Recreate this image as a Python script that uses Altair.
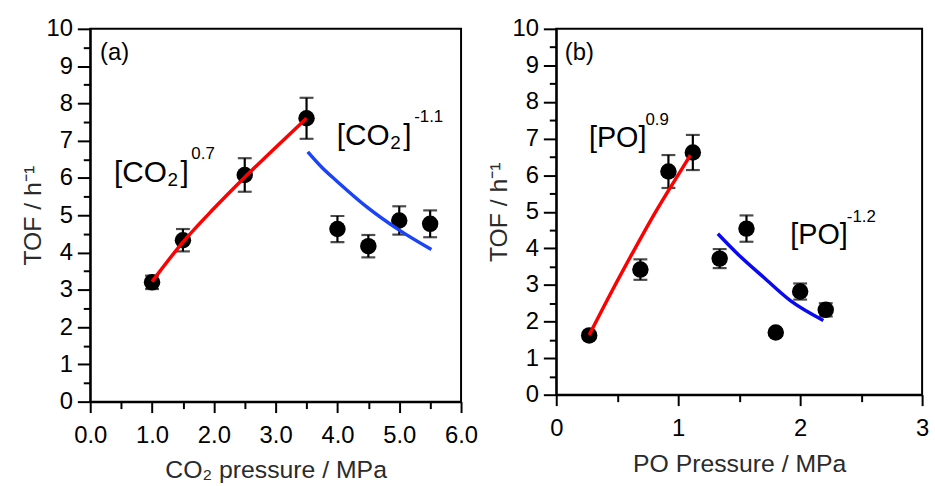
import altair as alt
import pandas as pd

FONT = "Liberation Sans"

# ---- panel (a): TOF versus CO2 pressure ----
co2_pressure = [1.0, 1.5, 2.5, 3.5, 4.0, 4.5, 5.0, 5.5]
co2_tof = [3.2, 4.33, 6.08, 7.6, 4.63, 4.17, 4.86, 4.77]
co2_err = [0.18, 0.3, 0.45, 0.55, 0.35, 0.3, 0.38, 0.36]

co2_rise_x = [1.0, 1.5, 2.0, 2.5, 3.0, 3.5]
co2_rise_y = [3.22, 4.28, 5.18, 6.02, 6.82, 7.6]
co2_fall_x = [3.52, 3.75, 4.0, 4.5, 5.0, 5.52]
co2_fall_y = [6.7, 6.28, 5.9, 5.19, 4.6, 4.08]

# ---- panel (b): TOF versus PO pressure ----
po_pressure = [0.27, 0.69, 0.92, 1.12, 1.34, 1.56, 1.80, 2.0, 2.21]
po_tof = [1.62, 3.42, 6.1, 6.62, 3.72, 4.54, 1.70, 2.82, 2.32]
po_err = [0.08, 0.28, 0.45, 0.48, 0.26, 0.36, 0.08, 0.22, 0.18]

po_rise_x = [0.27, 0.445, 0.62, 0.81, 1.0, 1.10]
po_rise_y = [1.63, 2.76, 3.84, 4.97, 6.01, 6.55]
po_fall_x = [1.325, 1.49, 1.70, 1.92, 2.19]
po_fall_y = [4.40, 3.84, 3.21, 2.57, 2.03]

# axis tick positions (minor ticks every half unit, labels on whole units)
tof_ticks = [0, 0.5, 1, 1.5, 2, 2.5, 3, 3.5, 4, 4.5, 5, 5.5, 6, 6.5, 7, 7.5, 8, 8.5, 9, 9.5, 10]
co2_ticks = [0, 0.5, 1, 1.5, 2, 2.5, 3, 3.5, 4, 4.5, 5, 5.5, 6]
po_ticks = [0, 0.5, 1, 1.5, 2, 2.5, 3]

# annotation anchors (data units)
co2_up_label = (0.385, 5.9, "0.7")
co2_down_label = (3.99, 6.89, "-1.1")
po_up_label = (0.268, 6.78, "0.9")
po_down_label = (1.919, 4.12, "-1.2")
panel_a_tag = (0.16, 9.17, "(a)")
panel_b_tag = (0.07, 9.16, "(b)")

WHOLE = "abs(datum.value - round(datum.value)) < 1e-6"
Y_TITLE = "TOF / h⁻¹"


def y_axis():
    return alt.Axis(
        values=tof_ticks,
        labelExpr=f"{WHOLE} ? format(datum.value, 'd') : ''",
        tickSize={"condition": {"test": WHOLE, "value": 13}, "value": 7},
        tickWidth=2, tickColor="black", domainWidth=2, domainColor="black",
        labelFont=FONT, labelFontSize=24, labelColor="black", labelPadding=5,
        titleFont=FONT, titleFontSize=25, titleFontWeight="normal",
        titleColor="#2b2b2b", titlePadding=0, grid=False,
    )


def x_axis(values, fmt):
    return alt.Axis(
        values=values,
        labelExpr=f"{WHOLE} ? format(datum.value, '{fmt}') : ''",
        tickSize={"condition": {"test": WHOLE, "value": 11}, "value": 7},
        tickWidth=2, tickColor="black", domainWidth=2, domainColor="black",
        labelFont=FONT, labelFontSize=24, labelColor="black", labelPadding=11,
        labelFlush=False, labelOverlap=False,
        titleFont=FONT, titleFontSize=25, titleFontWeight="normal",
        titleColor="#2b2b2b", titlePadding=11, grid=False,
    )


def make_panel(px, py, pe, rise, fall, x_domain, x_ticks, x_fmt, x_title,
               labels, tag, blue, w, h):
    xs = alt.Scale(domain=x_domain, nice=False, zero=False)
    ys = alt.Scale(domain=[0, 10], nice=False, zero=False)

    # every layer carries the same scale/axis definition so nothing gets merged away
    def X(field):
        return alt.X(field, scale=xs, axis=x_axis(x_ticks, x_fmt), title=x_title)

    def Y(field):
        return alt.Y(field, scale=ys, axis=y_axis(), title=Y_TITLE)

    pts = pd.DataFrame({"p": px, "tof": py, "err": pe})
    pts["lo"] = pts["tof"] - pts["err"]
    pts["hi"] = pts["tof"] + pts["err"]

    dots = alt.Chart(pts).mark_point(
        filled=True, shape="circle", size=275, color="black", opacity=1
    ).encode(x=X("p:Q"), y=Y("tof:Q"))
    bars = alt.Chart(pts).mark_errorbar(
        ticks=True, size=14, thickness=2.2, color="black"
    ).encode(x=X("p:Q"), y=Y("lo:Q"), y2="hi:Q")

    def fit_line(xv, yv, color):
        df = pd.DataFrame({"p": xv, "tof": yv})
        return alt.Chart(df).mark_line(
            color=color, strokeWidth=3.5, interpolate="monotone"
        ).encode(x=X("p:Q"), y=Y("tof:Q"))

    def text_piece(anchor_x, anchor_y, text, size, dx=0, dy=0):
        df = pd.DataFrame({"p": [anchor_x], "tof": [anchor_y], "t": [text]})
        return alt.Chart(df).mark_text(
            align="left", baseline="alphabetic", font=FONT, fontSize=size,
            dx=dx, dy=dy, color="black",
        ).encode(x=X("p:Q"), y=Y("tof:Q"), text="t:N")

    def bracket_label(anchor, species, subscript):
        ax, ay, power = anchor
        if subscript:
            return [
                text_piece(ax, ay, "[" + species, 30),
                text_piece(ax, ay, subscript, 19, dx=54, dy=4),
                text_piece(ax, ay, "]", 30, dx=67),
                text_piece(ax, ay, power, 17, dx=78, dy=-23),
            ]
        return [
            text_piece(ax, ay, "[" + species + "]", 29),
            text_piece(ax, ay, power, 17, dx=57, dy=-22),
        ]

    layers = [dots, bars, fit_line(rise[0], rise[1], "#ff0000"), fit_line(fall[0], fall[1], blue)]
    for spec in labels:
        layers += bracket_label(*spec)
    layers.append(text_piece(tag[0], tag[1], tag[2], 24))
    return alt.layer(*layers).properties(width=w, height=h)


panel_a = make_panel(
    co2_pressure, co2_tof, co2_err,
    (co2_rise_x, co2_rise_y), (co2_fall_x, co2_fall_y),
    [0, 6], co2_ticks, ".1f", "CO₂ pressure / MPa",
    [(co2_up_label, "CO", "2"), (co2_down_label, "CO", "2")],
    panel_a_tag, "#1a44f5", 374, 376,
)
panel_b = make_panel(
    po_pressure, po_tof, po_err,
    (po_rise_x, po_rise_y), (po_fall_x, po_fall_y),
    [0, 3], po_ticks, "d", "PO Pressure / MPa",
    [(po_up_label, "PO", ""), (po_down_label, "PO", "")],
    panel_b_tag, "#0a0af0", 369, 369,
)

chart = alt.hconcat(panel_a, panel_b, spacing=96, bounds="flush").properties(
    padding={"left": 20, "top": 14, "right": 5, "bottom": 0},
    background="white",
).configure_view(stroke="black", strokeWidth=2)

chart.save("out.html", embed_options={"renderer": "svg", "actions": False})
